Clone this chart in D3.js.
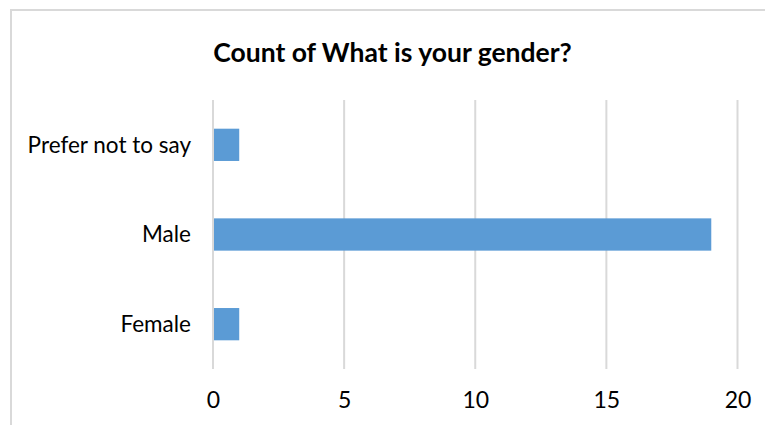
<!DOCTYPE html>
<html>
<head>
<meta charset="utf-8">
<script src="https://cdn.jsdelivr.net/npm/d3@7"></script>
<style>
  html, body { margin: 0; padding: 0; background: #fff; }
  svg { display: block; }
  text { font-family: Lato, "Open Sans", sans-serif; fill: #000; }
</style>
</head>
<body>
<svg id="chart" width="765" height="425"></svg>
<script>
// Responses per gender, listed bottom to top
const categories = ["Female", "Male", "Prefer not to say"];
const counts = [1, 19, 1];
const xTicks = [0, 5, 10, 15, 20];
const title = "Count of What is your gender?";

const W = 765, H = 425;
const svg = d3.select("#chart");

// chart frame
svg.append("rect")
  .attr("x", 11).attr("y", 10)
  .attr("width", W + 10).attr("height", H + 10)
  .attr("fill", "#fff")
  .attr("stroke", "#d9d9d9").attr("stroke-width", 2);

const plot = { left: 213, right: 737.5, top: 100, bottom: 369 };

const x = d3.scaleLinear().domain([0, 20]).range([plot.left, plot.right]);
const y = d3.scaleBand()
  .domain(categories.slice().reverse())
  .range([plot.top, plot.bottom])
  .paddingInner(0.64).paddingOuter(0.32);

// vertical gridlines
svg.append("g")
  .selectAll("line")
  .data(xTicks)
  .join("line")
  .attr("x1", d => x(d)).attr("x2", d => x(d))
  .attr("y1", plot.top).attr("y2", plot.bottom)
  .attr("stroke", "#d9d9d9").attr("stroke-width", 2);

// bars
svg.append("g")
  .selectAll("rect")
  .data(categories.map((c, i) => ({ c, v: counts[i] })))
  .join("rect")
  .attr("x", x(0) + 1)
  .attr("y", d => y(d.c))
  .attr("width", d => x(d.v) - x(0) - 1)
  .attr("height", y.bandwidth())
  .attr("fill", "#5b9bd5");

// x axis labels
const xAxis = d3.axisBottom(x).tickValues(xTicks).tickSize(0).tickPadding(0);
const gx = svg.append("g")
  .attr("transform", `translate(0,${plot.bottom})`)
  .call(xAxis);
gx.select(".domain").remove();
gx.selectAll("text")
  .attr("dy", null)
  .attr("y", 39)
  .style("font-size", "23px")
  .style("font-family", "Lato, sans-serif")
  .attr("fill", "#000");

// category labels
const yAxis = d3.axisLeft(y).tickSize(0).tickPadding(0);
const gy = svg.append("g")
  .attr("transform", `translate(191,0)`)
  .call(yAxis);
gy.select(".domain").remove();
gy.selectAll("text")
  .attr("dy", "0.35em")
  .attr("x", 0)
  .style("font-size", "22.5px")
  .style("font-family", "Lato, sans-serif")
  .attr("fill", "#000");

// title
svg.append("text")
  .attr("x", 392.5).attr("y", 62)
  .attr("text-anchor", "middle")
  .style("font-size", "26.5px")
  .style("font-weight", "bold")
  .text(title);
</script>
</body>
</html>
